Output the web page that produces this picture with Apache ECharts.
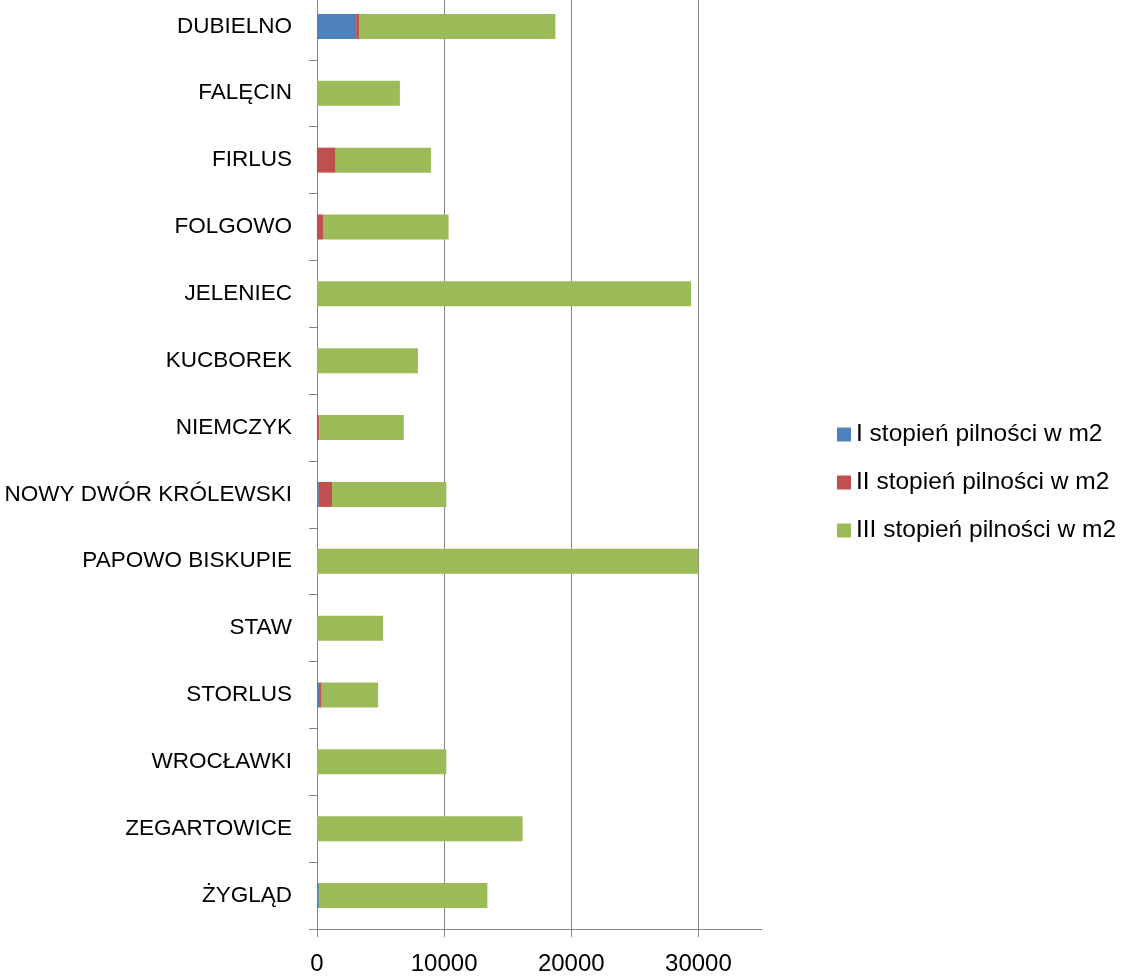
<!DOCTYPE html>
<html>
<head>
<meta charset="utf-8">
<script src="https://cdn.jsdelivr.net/npm/echarts@6/dist/echarts.min.js"></script>
<style>
  html, body { margin: 0; padding: 0; background: #fff; overflow: hidden; }
  #wykres { width: 1121px; height: 983px; margin-top: -7px; }
</style>
</head>
<body>
<div id="wykres"></div>
<script>
const obreby = ['DUBIELNO', 'FALĘCIN', 'FIRLUS', 'FOLGOWO', 'JELENIEC', 'KUCBOREK', 'NIEMCZYK',
    'NOWY DWÓR KRÓLEWSKI', 'PAPOWO BISKUPIE', 'STAW', 'STORLUS', 'WROCŁAWKI', 'ZEGARTOWICE', 'ŻYGLĄD']
const stopien1 = [3080, 0, 0, 0, 0, 0, 0, 150, 0, 0, 240, 0, 0, 150]
const stopien2 = [230, 0, 1470, 470, 0, 0, 180, 1030, 0, 0, 130, 0, 0, 0]
const stopien3 = [15440, 6520, 7500, 9880, 29420, 7940, 6650, 8990, 30000, 5200, 4440, 10170, 16170, 13250]
const nazwy = ['I stopień pilności w m2', 'II stopień pilności w m2', 'III stopień pilności w m2']
const kolory = ['#4F81BD', '#C0504D', '#9BBB59']

const font = 'Liberation Sans'
const dom = document.getElementById('wykres')
const myChart = echarts.init(dom, null, { renderer: 'canvas' })

const seria = (nazwa, dane, kolor) => ({
    name: nazwa,
    type: 'bar',
    stack: 'suma',
    data: dane,
    barWidth: 25,
    itemStyle: { color: kolor },
    emphasis: { disabled: true }
})

// kontener przesuniety o 7px w gore, bo pierwszy pas kategorii wychodzi poza kadr
const option = {
    animation: false,
    color: kolory,
    grid: { left: 317, right: 359, top: 0, bottom: 43, containLabel: false },
    legend: {
        orient: 'vertical',
        left: 832,
        top: 424,
        itemWidth: 14,
        itemHeight: 14,
        itemGap: 23,
        icon: 'rect',
        textStyle: { fontFamily: font, fontSize: 24.5, color: '#000' },
        data: nazwy
    },
    xAxis: {
        type: 'value',
        min: 0,
        max: 35000,
        interval: 10000,
        axisLine: { show: true, lineStyle: { color: '#868686' } },
        axisTick: { show: true, length: 8, lineStyle: { color: '#868686' } },
        axisLabel: {
            fontFamily: font, fontSize: 24, color: '#000', margin: 23, showMaxLabel: false,
            formatter: (v) => String(v)
        },
        splitLine: { show: true, showMaxLine: false, lineStyle: { color: '#868686' } }
    },
    yAxis: {
        type: 'category',
        inverse: true,
        data: obreby,
        axisLine: { show: true, lineStyle: { color: '#868686' } },
        axisTick: { show: true, length: 8, lineStyle: { color: '#868686' } },
        axisLabel: { fontFamily: font, fontSize: 22.5, color: '#000', margin: 25 },
        splitLine: { show: false }
    },
    series: [
        seria(nazwy[0], stopien1, kolory[0]),
        seria(nazwy[1], stopien2, kolory[1]),
        seria(nazwy[2], stopien3, kolory[2])
    ]
}

myChart.setOption(option)
</script>
</body>
</html>
